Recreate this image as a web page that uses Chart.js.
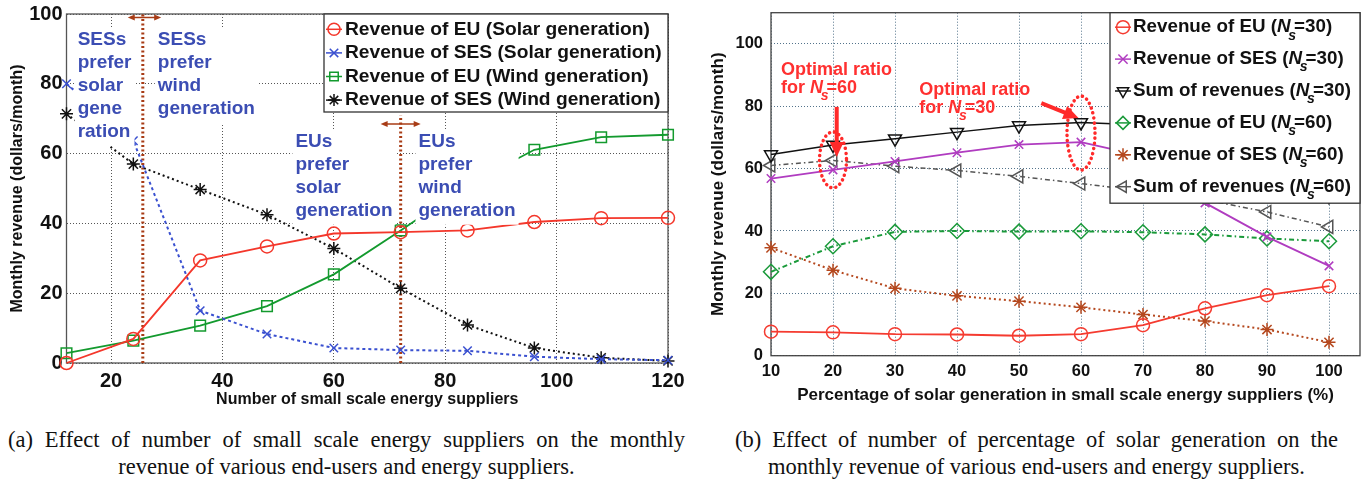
<!DOCTYPE html>
<html>
<head>
<meta charset="utf-8">
<script src="https://cdn.jsdelivr.net/npm/chart.js@4.4.1/dist/chart.umd.min.js"></script>
<style>
  body { margin: 0; background: #fff; width: 1369px; height: 482px; overflow: hidden; position: relative; }
  .pane { position: absolute; top: 0; height: 415px; }
  .cap { position: absolute; font-family: 'Liberation Serif', 'Times New Roman', serif; font-size: 22.5px; line-height: 27px; color: #111; }
  .just { text-align: justify; text-align-last: justify; }
  .mid { text-align: center; white-space: nowrap; }
</style>
</head>
<body>
<div class="pane" style="left:0;width:690px"><canvas id="revA" width="690" height="415"></canvas></div>
<div class="pane" style="left:690px;width:679px"><canvas id="revB" width="679" height="415"></canvas></div>
<div class="cap just" style="left:8px;top:426px;width:677px">(a) Effect of number of small scale energy suppliers on the monthly</div>
<div class="cap mid" style="left:8px;top:453px;width:677px">revenue of various end-users and energy suppliers.</div>
<div class="cap just" style="left:735px;top:426px;width:603px">(b) Effect of number of percentage of solar generation on the</div>
<div class="cap mid" style="left:735px;top:453px;width:603px">monthly revenue of various end-users and energy suppliers.</div>
<script>
// (a) revenue vs number of small scale energy suppliers
var suppliers = [12, 24, 36, 48, 60, 72, 84, 96, 108, 120];
var euSolar  = [0, 6.9, 29.4, 33.4, 37.1, 37.5, 38, 40.4, 41.5, 41.6];
var sesSolar = [80, 63.7, 15, 8.3, 4.3, 3.7, 3.5, 1.8, 1.1, 0.8];
var euWind   = [2.8, 6.4, 10.7, 16.3, 25.4, 38, 51, 61.1, 64.7, 65.4];
var sesWind  = [71.4, 57, 49.7, 42.5, 32.8, 21.4, 10.9, 4.3, 1.5, 0.6];
var splitX   = [25.7, 72];     // preference switch points
var splitTop = [100, 71];
var ticksAx = [20, 40, 60, 80, 100, 120];
var ticksAy = [0, 20, 40, 60, 80, 100];
var labelsA = ['Revenue of EU (Solar generation)', 'Revenue of SES (Solar generation)',
               'Revenue of EU (Wind generation)', 'Revenue of SES (Wind generation)'];

// (b) revenue vs share of solar generation
var solarPct = [10, 20, 30, 40, 50, 60, 70, 80, 90, 100];
var euNs30  = [7.7, 7.5, 6.9, 6.8, 6.4, 6.9, 9.8, 15.2, 19.4, 22.3];
var sesNs30 = [56.8, 59.6, 62.3, 65.1, 67.7, 68.5, 64, 49, 38.1, 28.8];
var sumNs30 = [64.5, 67.6, 69.6, 71.7, 73.8, 74.8, 74, 64.2, 57.5, 51.1];
var euNs60  = [26.9, 35.1, 39.7, 40, 39.8, 39.9, 39.6, 38.9, 37.6, 36.7];
var sesNs60 = [34.6, 27.4, 21.6, 19.2, 17.5, 15.5, 13.2, 11.1, 8.4, 4.3];
var sumNs60 = [61, 62.6, 60.8, 59.4, 57.5, 55.2, 52.8, 50, 46.1, 41.3];
var ticksBx = [10, 20, 30, 40, 50, 60, 70, 80, 90, 100];
var ticksBy = [0, 20, 40, 60, 80, 100];
var labelsB = ['Revenue of EU (N_s=30)', 'Revenue of SES (N_s=30)', 'Sum of revenues (N_s=30)',
               'Revenue of EU (N_s=60)', 'Revenue of SES (N_s=60)', 'Sum of revenues (N_s=60)'];

// annotations (data coordinates)
var notesA = [
  { x: 14.0, y: 92.5, lines: ['SESs', 'prefer', 'solar', 'gene', 'ration'] },
  { x: 28.4, y: 92.5, lines: ['SESs', 'prefer', 'wind', 'generation'] },
  { x: 53.1, y: 63.4, lines: ['EUs', 'prefer', 'solar', 'generation'] },
  { x: 75.2, y: 63.4, lines: ['EUs', 'prefer', 'wind', 'generation'] }
];
var arrowsA = [ { x1: 23.0, x2: 29.0, y: 99 }, { x1: 68.4, x2: 75.6, y: 68.5 } ];
var notesB = [
  { x: 11.6, y: 91.6, lines: ['Optimal ratio', 'for N_s=60'] },
  { x: 33.9, y: 85.2, lines: ['Optimal ratio', 'for N_s=30'] }
];
var ringsB  = [ { x: 20, y: 62.8, rx: 13.5, ry: 28 }, { x: 60, y: 71.4, rx: 14, ry: 37 } ];
var arrowsB = [ { x1: 20.6, y1: 79.8, x2: 20.6, y2: 63.7 }, { x1: 53.6, y1: 81, x2: 59.6, y2: 76.2 } ];

var FONT = "'Liberation Sans', Arial, Helvetica, sans-serif";

function series(xs, ys) {
  return xs.map(function (x, i) { return { x: x, y: ys[i] }; });
}

function line(label, xs, ys, color, dash, style, r, rot, w) {
  return {
    label: label, data: series(xs, ys),
    borderColor: color, backgroundColor: 'rgba(0,0,0,0)',
    borderWidth: w, borderDash: dash, tension: 0, fill: false, clip: false,
    pointStyle: style, pointRadius: r, pointHoverRadius: r, pointRotation: rot,
    pointBorderColor: color, pointBackgroundColor: 'rgba(0,0,0,0)', pointBorderWidth: 1.5
  };
}

function guide(x, top) {
  return {
    label: '', isGuide: true, data: [{ x: x, y: 0 }, { x: x, y: top }],
    borderColor: '#a83c16', borderWidth: 3, borderDash: [2, 2.5], pointRadius: 0, clip: false
  };
}

function fixedTicks(list) {
  return function (scale) { scale.ticks = list.map(function (v) { return { value: v }; }); };
}

function drawRich(ctx, str, x, y, size) {
  var plain = 'bold ' + size + 'px ' + FONT;
  var k = str.indexOf('N_s');
  ctx.font = plain;
  if (k < 0) { ctx.fillText(str, x, y); return; }
  var head = str.slice(0, k), tail = str.slice(k + 3);
  ctx.fillText(head, x, y);
  x += ctx.measureText(head).width;
  ctx.font = 'italic bold ' + size + 'px ' + FONT;
  ctx.fillText('N', x, y);
  x += ctx.measureText('N').width;
  ctx.font = 'italic bold ' + Math.round(size * 0.75) + 'px ' + FONT;
  ctx.fillText('s', x - size * 0.12, y + size * 0.45);
  x += ctx.measureText('s').width * 0.45;
  ctx.font = plain;
  ctx.fillText(tail, x, y);
}

function strokeFrame(chart, color) {
  var a = chart.chartArea, ctx = chart.ctx;
  ctx.save();
  ctx.strokeStyle = color;
  ctx.lineWidth = 1.3;
  ctx.setLineDash([]);
  ctx.strokeRect(a.left, a.top, a.right - a.left, a.bottom - a.top);
  ctx.restore();
}

function drawLegend(chart, o) {
  var ctx = chart.ctx, a = chart.chartArea;
  var left = a.right - o.width, top = a.top;
  ctx.save();
  ctx.fillStyle = '#fff';
  ctx.fillRect(left, top, o.width, o.height);
  ctx.strokeStyle = '#333';
  ctx.lineWidth = 1.3;
  ctx.strokeRect(left, top, o.width, o.height);
  var rows = chart.data.datasets.filter(function (d) { return !d.isGuide; });
  rows.forEach(function (d, i) {
    var y = top + o.first + i * o.gap, mx = left + o.mark;
    ctx.strokeStyle = d.borderColor;
    ctx.lineWidth = 1.5;
    ctx.setLineDash([]);
    ctx.beginPath();
    ctx.moveTo(mx - o.half, y);
    ctx.lineTo(mx + o.half, y);
    ctx.stroke();
    ctx.fillStyle = 'rgba(0,0,0,0)';
    Chart.helpers.drawPoint(ctx, { pointStyle: d.pointStyle, radius: o.r, rotation: d.pointRotation, borderWidth: 1.5 }, mx, y);
    ctx.fillStyle = '#111';
    ctx.textBaseline = 'middle';
    ctx.textAlign = 'left';
    drawRich(ctx, d.label, left + o.text, y, o.size);
  });
  ctx.restore();
}

function headAt(ctx, x, y, ang, len, half) {
  ctx.beginPath();
  ctx.moveTo(x, y);
  ctx.lineTo(x - len * Math.cos(ang) + half * Math.sin(ang), y - len * Math.sin(ang) - half * Math.cos(ang));
  ctx.lineTo(x - len * Math.cos(ang) - half * Math.sin(ang), y - len * Math.sin(ang) + half * Math.cos(ang));
  ctx.closePath();
  ctx.fill();
}

var panelA = {
  id: 'panelA',
  beforeDatasetsDraw: function (chart) { strokeFrame(chart, '#555'); },
  afterDatasetsDraw: function (chart) {
    var ctx = chart.ctx, sx = chart.scales.x, sy = chart.scales.y;
    ctx.save();
    ctx.strokeStyle = ctx.fillStyle = '#a83c16';
    ctx.lineWidth = 1.5;
    arrowsA.forEach(function (r) {
      var x1 = sx.getPixelForValue(r.x1), x2 = sx.getPixelForValue(r.x2), y = sy.getPixelForValue(r.y);
      ctx.beginPath(); ctx.moveTo(x1 + 3, y); ctx.lineTo(x2 - 3, y); ctx.stroke();
      headAt(ctx, x2, y, 0, 7, 3);
      headAt(ctx, x1, y, Math.PI, 7, 3);
    });
    ctx.font = 'bold 19px ' + FONT;
    ctx.textBaseline = 'middle';
    notesA.forEach(function (n) {
      var x0 = sx.getPixelForValue(n.x), y0 = sy.getPixelForValue(n.y);
      var w = Math.max.apply(null, n.lines.map(function (l) { return ctx.measureText(l).width; }));
      ctx.fillStyle = '#fff';
      ctx.fillRect(x0 - 3, y0 - 12, w + 6, (n.lines.length - 1) * 23 + 26);
      ctx.fillStyle = '#3b4db3';
      n.lines.forEach(function (l, i) { ctx.fillText(l, x0, y0 + i * 23); });
    });
    ctx.restore();
    drawLegend(chart, { width: 344, height: 98, first: 15.3, gap: 23.6, mark: 10, half: 8, r: 6, text: 21, size: 19.2 });
  }
};

var panelB = {
  id: 'panelB',
  beforeDatasetsDraw: function (chart) { strokeFrame(chart, '#444'); },
  afterDatasetsDraw: function (chart) {
    var ctx = chart.ctx, sx = chart.scales.x, sy = chart.scales.y;
    ctx.save();
    ctx.strokeStyle = '#ff2a2a';
    ctx.lineWidth = 3.5;
    ctx.lineCap = 'round';
    ctx.setLineDash([0.1, 5]);
    ringsB.forEach(function (e) {
      ctx.beginPath();
      ctx.ellipse(sx.getPixelForValue(e.x), sy.getPixelForValue(e.y), e.rx, e.ry, 0, 0, Math.PI * 2);
      ctx.stroke();
    });
    ctx.setLineDash([]);
    ctx.lineCap = 'butt';
    ctx.lineWidth = 4;
    ctx.fillStyle = '#ff2a2a';
    arrowsB.forEach(function (r) {
      var x1 = sx.getPixelForValue(r.x1), y1 = sy.getPixelForValue(r.y1);
      var x2 = sx.getPixelForValue(r.x2), y2 = sy.getPixelForValue(r.y2);
      var ang = Math.atan2(y2 - y1, x2 - x1);
      ctx.beginPath();
      ctx.moveTo(x1, y1);
      ctx.lineTo(x2 - 12 * Math.cos(ang), y2 - 12 * Math.sin(ang));
      ctx.stroke();
      headAt(ctx, x2, y2, ang, 15, 7);
    });
    ctx.fillStyle = '#ff3030';
    ctx.textBaseline = 'middle';
    notesB.forEach(function (n) {
      var x0 = sx.getPixelForValue(n.x), y0 = sy.getPixelForValue(n.y);
      n.lines.forEach(function (l, i) { drawRich(ctx, l, x0, y0 + i * 18, 18); });
    });
    ctx.restore();
    drawLegend(chart, { width: 250, height: 190.5, first: 14.5, gap: 31.9, mark: 13, half: 8, r: 6.5, text: 23, size: 18.8 });
  }
};

function axes(o) {
  return {
    x: {
      type: 'linear', min: o.xmin, max: o.xmax,
      afterBuildTicks: fixedTicks(o.xt),
      afterFit: function (s) { s.height = o.xh; s.paddingLeft = 0; s.paddingRight = 0; },
      grid: { color: o.grid, lineWidth: 1, drawTicks: false },
      border: { display: false, dash: [1, 2] },
      ticks: { padding: o.xpad, color: '#111', font: { family: FONT, size: o.tick, weight: 'bold' } },
      title: { display: true, text: o.xtitle, color: '#111', padding: { top: 0, bottom: o.xtpad },
               font: { family: FONT, size: o.title, weight: 'bold' } }
    },
    y: {
      type: 'linear', min: 0, max: o.ymax,
      afterBuildTicks: fixedTicks(o.yt),
      afterFit: function (s) { s.width = o.yw; s.paddingTop = 0; s.paddingBottom = 0; },
      grid: { color: o.grid, lineWidth: 1, drawTicks: false },
      border: { display: false, dash: [1, 2] },
      ticks: { padding: o.ypad, color: '#111', font: { family: FONT, size: o.tick, weight: 'bold' } },
      title: { display: true, text: 'Monthly revenue (dollars/month)', color: '#111', padding: { top: o.ytpad, bottom: 0 },
               font: { family: FONT, size: o.title, weight: 'bold' } }
    }
  };
}

var common = {
  responsive: false, animation: false, devicePixelRatio: 1, events: [],
  plugins: { legend: { display: false }, tooltip: { enabled: false } }
};

new Chart(document.getElementById('revA'), {
  type: 'line',
  data: {
    datasets: [
      line(labelsA[0], suppliers, euSolar, '#f4372b', [], 'circle', 6.5, 0, 1.8),
      line(labelsA[1], suppliers, sesSolar, '#3a50d0', [3, 3], 'crossRot', 6, 0, 2),
      line(labelsA[2], suppliers, euWind, '#139a2e', [], 'rect', 7.5, 0, 1.8),
      line(labelsA[3], suppliers, sesWind, '#111111', [2, 3], 'star', 6.5, 0, 2),
      guide(splitX[0], splitTop[0]),
      guide(splitX[1], splitTop[1])
    ]
  },
  options: Object.assign({}, common, {
    layout: { padding: { left: 0, top: 14, right: 22, bottom: 0 } },
    scales: axes({ xmin: 12, xmax: 120, ymax: 100, xt: ticksAx, yt: ticksAy, xh: 52, yw: 66.5,
                   grid: 'rgba(30,30,30,0.75)', tick: 20, title: 16, xpad: 6, ypad: 4, xtpad: 5.4, ytpad: 8.4,
                   xtitle: 'Number of small scale energy suppliers' })
  }),
  plugins: [panelA]
});

new Chart(document.getElementById('revB'), {
  type: 'line',
  data: {
    datasets: [
      line(labelsB[0], solarPct, euNs30, '#f53b30', [], 'circle', 6.5, 0, 1.8),
      line(labelsB[1], solarPct, sesNs30, '#b03cc0', [], 'crossRot', 6, 0, 1.8),
      line(labelsB[2], solarPct, sumNs30, '#111111', [], 'triangle', 7.5, 180, 1.5),
      line(labelsB[3], solarPct, euNs60, '#1a9a3a', [5, 3, 1.5, 3], 'rectRot', 7.5, 0, 2),
      line(labelsB[4], solarPct, sesNs60, '#b5481e', [2, 3], 'star', 6.5, 0, 2),
      line(labelsB[5], solarPct, sumNs60, '#555555', [5, 3, 1.5, 3], 'triangle', 7.5, 270, 1.5)
    ]
  },
  options: Object.assign({}, common, {
    layout: { padding: { left: 0, top: 12.7, right: 6, bottom: 0 } },
    scales: axes({ xmin: 10, xmax: 105, ymax: 110, xt: ticksBx, yt: ticksBy, xh: 59.3, yw: 81,
                   grid: 'rgba(40,80,110,0.8)', tick: 16.5, title: 17, xpad: 5.5, ypad: 8, xtpad: 9.8, ytpad: 18.3,
                   xtitle: 'Percentage of solar generation in small scale energy suppliers (%)' })
  }),
  plugins: [panelB]
});
</script>
</body>
</html>
